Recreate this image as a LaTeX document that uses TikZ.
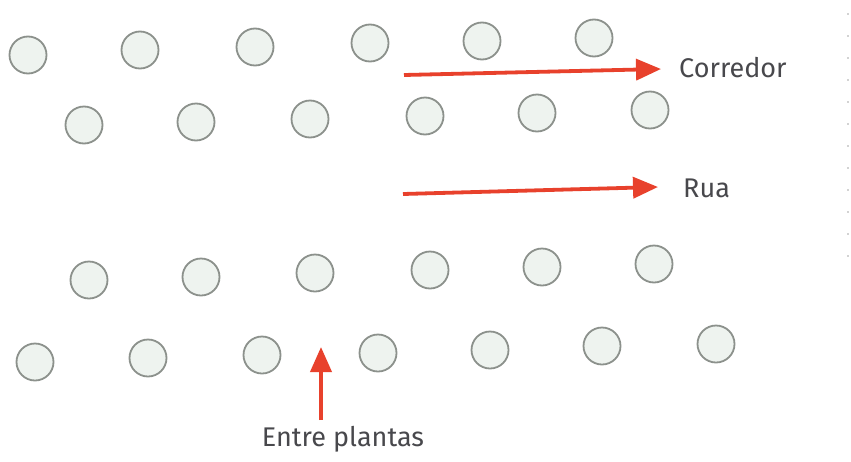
\documentclass[tikz,border=0pt]{standalone}
\usepackage{fontspec}
\setmainfont{Fira Sans}
\usetikzlibrary{arrows.meta}
\definecolor{plantfill}{HTML}{EEF3EF}
\definecolor{plantedge}{HTML}{8C918C}
\definecolor{arrowred}{HTML}{E8412C}
\definecolor{labelgrey}{HTML}{48484C}
\tikzset{
  plant/.style={circle, draw=plantedge, fill=plantfill, line width=1.8pt, minimum size=37pt, inner sep=0pt},
  redarrow/.style={draw=arrowred, line width=3.8pt, -{Triangle[length=25pt, width=21pt]}},
  lbl/.style={text=labelgrey, font=\fontsize{27}{30}\selectfont, inner sep=0pt}
}
\begin{document}
\begin{tikzpicture}[x=1pt, y=-1pt]
\useasboundingbox[fill=white] (0,0) rectangle (851,461);
% first row of plants
\foreach \x/\y [count=\i] in {28/55, 140/50, 255/47, 370/43, 482/41, 594/38}
  \node[plant] (a\i) at (\x,\y) {};
% second row
\foreach \x/\y [count=\i] in {84/125, 196/122, 310/119, 425/116, 537/113, 650/110}
  \node[plant] (b\i) at (\x,\y) {};
% third row
\foreach \x/\y [count=\i] in {89/280, 201/277, 315/273, 430/270, 542/267, 654/264}
  \node[plant] (c\i) at (\x,\y) {};
% fourth row
\foreach \x/\y [count=\i] in {35/362, 148/358, 262/355, 378/353, 490/350, 602/346, 716/344}
  \node[plant] (d\i) at (\x,\y) {};
% labels
\node[lbl, anchor=west] (corr) at (679,68) {Corredor};
\node[lbl, anchor=west] (rua) at (683,188) {Rua};
\node[lbl, anchor=north] (entre) at (343,426) {Entre plantas};
% arrow ends
\coordinate (corrS) at (404,75);
\coordinate (corrE) at (661,69);
\coordinate (ruaS) at (403,194);
\coordinate (ruaE) at (658,187);
\coordinate (entreS) at (321,420);
\coordinate (entreE) at (321,347);
\draw[redarrow] (corrS) -- (corrE);
\draw[redarrow] (ruaS) -- (ruaE);
\draw[redarrow] (entreS) -- (entreE);
% dotted page edge
\foreach \k in {0,...,11}
  \fill[gray!70] (848,14+22*\k) circle (0.9pt);
\end{tikzpicture}
\end{document}
